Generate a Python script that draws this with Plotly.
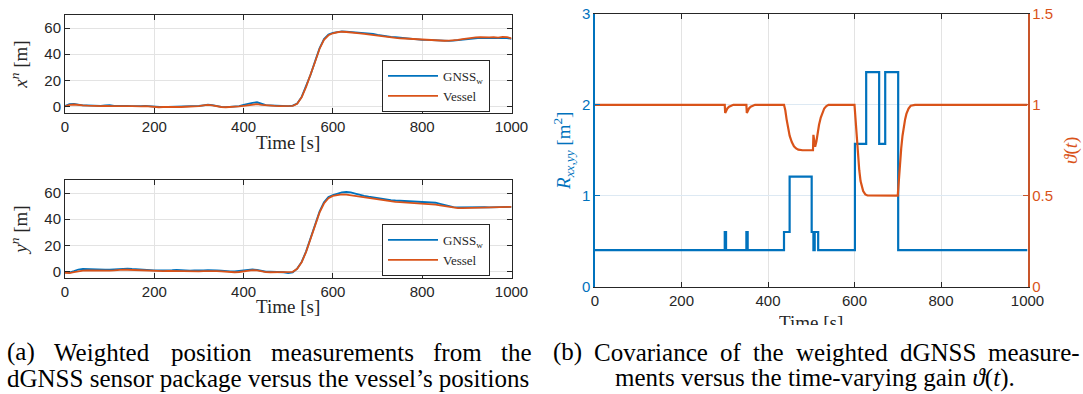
import plotly.graph_objects as go

# ---------------- data ----------------
t_pos = list(range(0, 1001, 10))

x_vessel = [0.0, 1.2, 1.5, 1.0, 0.8, 0.6, 0.4, 0.5, 0.3, 0.5, 0.6,
            0.3, 0.2, 0.4, 0.3, 0.2, 0.0, 0.1, 0.3, 0.0, -0.5,
            -0.6, -0.4, -0.5, -0.3, -0.6, -0.4, -0.2, -0.1, 0.1, 0.3,
            0.8, 1.2, 0.9, 0.2, -0.4, -0.6, -0.5, -0.2, 0.0, 0.4,
            1.0, 1.5, 1.8, 1.2, 0.8, 0.6, 0.4, 0.3, 0.2, 0.1,
            0.5, 2.0, 7.0, 15.0, 24.0, 34.0, 44.0, 51.0, 54.5, 56.0,
            56.8, 57.2, 57.0, 56.8, 56.5, 56.0, 55.5, 55.0, 54.5, 54.0,
            53.6, 53.2, 52.8, 52.5, 52.2, 52.0, 51.8, 51.5, 51.3, 51.0,
            50.8, 50.6, 50.5, 50.4, 50.3, 50.4, 50.6, 51.0, 51.6, 52.2,
            52.6, 52.9, 53.0, 52.8, 52.9, 53.1, 52.7, 53.2, 53.0, 52.2]

x_gnss = [0.3, 1.8, 1.9, 1.3, 0.9, 0.8, 0.5, 0.7, 0.4, 0.9, 1.0,
          0.5, 0.3, 0.5, 0.4, 0.3, 0.1, 0.3, 0.5, 0.2, -0.3,
          -0.4, -0.5, -0.3, -0.2, -0.4, -0.3, -0.1, 0.0, 0.2, 0.4,
          0.9, 1.4, 1.0, 0.3, -0.3, -0.5, -0.4, -0.1, 0.3, 1.2,
          2.2, 2.8, 3.2, 2.0, 1.0, 0.9, 0.6, 0.5, 0.4, 0.2,
          0.6, 2.3, 7.3, 15.3, 24.4, 34.5, 44.5, 51.6, 55.0, 56.4,
          57.2, 57.5, 57.3, 57.0, 56.6, 56.4, 56.3, 56.0, 55.6, 54.8,
          54.2, 53.8, 53.3, 53.0, 52.6, 52.4, 52.0, 51.7, 51.4, 51.0,
          50.9, 50.7, 50.6, 50.3, 50.1, 50.2, 50.4, 50.8, 51.2, 51.7,
          52.1, 52.4, 52.5, 52.3, 52.2, 52.4, 52.0, 52.3, 52.4, 51.8]

y_vessel = [-1.0, -1.2, -0.5, 0.3, 0.6, 0.8, 0.7, 0.5, 0.6, 0.5, 0.6,
            0.8, 1.2, 1.4, 1.3, 1.1, 1.0, 0.7, 0.5, 0.6, 0.4,
            0.3, 0.2, 0.4, 0.3, 0.5, 0.4, 0.3, 0.2, 0.3, 0.0,
            0.2, 0.4, 0.5, 0.3, 0.1, -0.2, -0.4, -0.6, -0.4, 0.0,
            0.6, 1.0, 0.8, 0.0, -0.5, -0.6, -0.5, -0.6, -0.5, -0.7,
            -0.3, 2.0, 7.0, 15.0, 25.0, 36.0, 45.0, 52.0, 56.0, 57.8,
            58.6, 59.0, 58.8, 58.3, 57.6, 57.0, 56.3, 55.7, 55.2, 54.7,
            54.2, 53.8, 53.5, 53.2, 53.0, 52.8, 52.6, 52.4, 52.2, 52.0,
            51.6, 51.4, 51.2, 50.6, 50.0, 49.2, 48.6, 48.4, 48.5, 48.6,
            48.7, 48.6, 48.8, 49.0, 48.9, 49.1, 49.2, 49.3, 49.4, 49.5]

y_gnss = [-0.5, -0.8, 0.3, 1.5, 2.0, 1.8, 1.5, 1.3, 1.2, 1.4, 1.3,
          1.6, 2.1, 2.4, 2.2, 1.9, 1.6, 1.3, 1.2, 1.0, 0.9,
          0.8, 0.7, 0.9, 1.0, 1.2, 0.9, 0.8, 0.7, 0.8, 0.6,
          0.8, 1.0, 1.2, 0.9, 0.6, 0.2, 0.0, 0.1, 0.4, 0.8,
          1.4, 1.6, 1.2, 0.3, -0.2, -0.2, -0.3, -0.4, -0.6, -1.2,
          -0.8, 2.2, 7.3, 15.4, 25.5, 36.6, 45.8, 53.0, 57.0, 58.5,
          59.8, 60.5, 60.8, 60.5, 59.6, 58.6, 57.8, 57.2, 56.6, 56.2,
          55.6, 55.0, 54.6, 54.3, 54.1, 54.0, 53.8, 53.6, 53.5, 53.2,
          53.0, 52.8, 52.6, 51.8, 50.9, 50.1, 49.3, 49.0, 49.1, 49.2,
          49.0, 48.9, 49.1, 49.2, 49.0, 49.2, 49.3, 49.4, 49.4, 49.5]

# covariance (step signal, value holds until next time)
t_R = [0, 300, 303, 350, 353, 437, 450, 501, 505, 508, 516, 601, 627, 657, 671, 701, 1000]
R_xxyy = [0.4, 0.6, 0.4, 0.6, 0.4, 0.6, 1.21, 0.6, 0.4, 0.6, 0.4, 1.57, 2.36, 1.57, 2.36, 0.4, 0.4]

# time-varying gain
t_theta = [0, 300, 301, 303, 306, 310, 315, 320, 350, 351, 353, 356, 360, 365, 370,
           437, 440, 443, 446, 450, 455, 460, 465, 470, 480, 504, 505, 507, 509,
           512, 515, 518, 522, 526, 530, 535, 540, 600, 602, 605, 608, 611, 614,
           617, 620, 625, 630, 700, 702, 705, 708, 711, 714, 717, 720, 725, 730, 740, 1000]
theta = [1.0, 1.0, 0.955, 0.965, 0.98, 0.99, 0.997, 1.0, 1.0, 0.955, 0.965, 0.98, 0.99, 0.997, 1.0,
         1.0, 0.97, 0.92, 0.87, 0.83, 0.795, 0.772, 0.76, 0.753, 0.75, 0.75, 0.835, 0.80, 0.77,
         0.80, 0.85, 0.89, 0.93, 0.96, 0.98, 0.993, 1.0, 1.0, 0.93, 0.82, 0.72, 0.64, 0.58,
         0.545, 0.525, 0.507, 0.501, 0.5, 0.58, 0.68, 0.76, 0.83, 0.88, 0.92, 0.95, 0.98, 0.995, 1.0, 1.0]

x_ticks = [0, 200, 400, 600, 800, 1000]
pos_ticks = [0, 20, 40, 60]
R_ticks = [0, 1, 2, 3]
theta_ticks = [0, 0.5, 1, 1.5]

caption_a = ["(a) Weighted position measurements from the",
             "dGNSS sensor package versus the vessel\u2019s positions"]
caption_b = ["(b) Covariance of the weighted dGNSS measure-",
             "ments versus the time-varying gain <i>\u03d1</i>(<i>t</i>)."]

# ---------------- style ----------------
W, H = 1083, 394
BLUE = "#0072BD"
ORANGE = "#D95319"
ORANGE_AX = "#C8552A"
DARK = "#262626"
GRID = "#e3e3e3"
SANS = "Liberation Sans, Arial, sans-serif"
SERIF = "Liberation Serif, Times New Roman, serif"


def px(x):
    return x / W


def py(y):
    return 1 - y / H


fig = go.Figure()

# left top
fig.add_trace(go.Scatter(x=t_pos, y=x_gnss, mode="lines", name="GNSS<sub>w</sub>",
                         line=dict(color=BLUE, width=1.8), xaxis="x", yaxis="y", legend="legend"))
fig.add_trace(go.Scatter(x=t_pos, y=x_vessel, mode="lines", name="Vessel",
                         line=dict(color=ORANGE, width=1.8), xaxis="x", yaxis="y", legend="legend"))
# left bottom
fig.add_trace(go.Scatter(x=t_pos, y=y_gnss, mode="lines", name="GNSS<sub>w</sub>",
                         line=dict(color=BLUE, width=1.8), xaxis="x2", yaxis="y2", legend="legend2"))
fig.add_trace(go.Scatter(x=t_pos, y=y_vessel, mode="lines", name="Vessel",
                         line=dict(color=ORANGE, width=1.8), xaxis="x2", yaxis="y2", legend="legend2"))
# right
fig.add_trace(go.Scatter(x=t_R, y=R_xxyy, mode="lines", line_shape="hv", showlegend=False,
                         line=dict(color=BLUE, width=2.2), xaxis="x3", yaxis="y3"))
fig.add_trace(go.Scatter(x=t_theta, y=theta, mode="lines", showlegend=False,
                         line=dict(color=ORANGE, width=2.2), xaxis="x3", yaxis="y4"))

tickfont = dict(family=SANS, size=15, color=DARK)
titlefont = dict(family=SERIF, size=19, color=DARK)


def xax(domain, anchor):
    return dict(domain=domain, anchor=anchor, range=[0, 1000], tickvals=x_ticks,
                automargin=False,
                showgrid=True, gridcolor=GRID, gridwidth=1, zeroline=False,
                showline=True, linecolor=DARK, linewidth=1, mirror="ticks",
                ticks="inside", ticklen=5, tickcolor=DARK, tickfont=tickfont)


def yax_pos(domain, anchor, label):
    return dict(domain=domain, anchor=anchor, range=[-5, 70], tickvals=pos_ticks,
                automargin=False,
                showgrid=True, gridcolor=GRID, gridwidth=1, zeroline=False,
                showline=True, linecolor=DARK, linewidth=1, mirror="ticks",
                ticks="inside", ticklen=5, tickcolor=DARK, tickfont=tickfont,
                title=dict(text=label, font=titlefont, standoff=11))


xd_left = [px(65), px(511.5)]
xd_right = [px(595), px(1027.5)]

fig.update_layout(
    width=W, height=H,
    margin=dict(l=0, r=0, t=0, b=0, autoexpand=False),
    paper_bgcolor="white", plot_bgcolor="white",
    xaxis=xax(xd_left, "y"),
    yaxis=yax_pos([py(113), py(15)], "x", "<i>x</i><sup><i>n</i></sup> [m]"),
    xaxis2=xax(xd_left, "y2"),
    yaxis2=yax_pos([py(278), py(180)], "x2", "<i>y</i><sup><i>n</i></sup> [m]"),
    xaxis3=dict(domain=xd_right, anchor="y3", range=[0, 1000], tickvals=x_ticks,
                automargin=False,
                showgrid=True, gridcolor=GRID, zeroline=False,
                showline=True, linecolor=DARK, linewidth=1, mirror="ticks",
                ticks="inside", ticklen=5, tickcolor=DARK, tickfont=tickfont),
    yaxis3=dict(domain=[py(286.5), py(14)], anchor="x3", range=[0, 3], tickvals=R_ticks,
                automargin=False,
                showgrid=True, gridcolor="#dde9f3", zeroline=False,
                showline=True, linecolor=BLUE, linewidth=1.5,
                ticks="inside", ticklen=5, tickcolor=BLUE,
                tickfont=dict(family=SANS, size=15, color=BLUE),
                title=dict(text="<i>R</i><sub><i>xx,yy</i></sub> [m<sup>2</sup>]",
                           font=dict(family=SERIF, size=19, color=BLUE), standoff=6)),
    yaxis4=dict(overlaying="y3", anchor="x3", side="right", range=[0, 1.5], tickvals=theta_ticks,
                automargin=False,
                showgrid=False, zeroline=False,
                showline=True, linecolor=ORANGE_AX, linewidth=1.5,
                ticks="inside", ticklen=5, tickcolor=ORANGE_AX,
                tickfont=dict(family=SANS, size=15, color=ORANGE),
                title=dict(text="<i>\u03d1</i>(<i>t</i>)",
                           font=dict(family=SERIF, size=19, color=ORANGE), standoff=12)),
    legend=dict(x=px(490), y=py(112), xanchor="right", yanchor="bottom",
                bgcolor="white", bordercolor=DARK, borderwidth=1,
                font=dict(family=SERIF, size=13, color=DARK), itemwidth=50,
                tracegroupgap=0),
    legend2=dict(x=px(490), y=py(276), xanchor="right", yanchor="bottom",
                 bgcolor="white", bordercolor=DARK, borderwidth=1,
                 font=dict(family=SERIF, size=13, color=DARK), itemwidth=50,
                 tracegroupgap=0),
)

annotations = []
# x-axis titles
for yc in (142, 306):
    annotations.append(dict(text="Time [s]", x=px(288), y=py(yc), xref="paper", yref="paper",
                            xanchor="center", yanchor="middle", showarrow=False, font=titlefont))
# clipped x-axis title on the right plot
annotations.append(dict(text="Time [s]", x=px(811), y=py(310), xref="paper", yref="paper",
                        xanchor="center", yanchor="top", showarrow=False, height=13,
                        valign="top", font=titlefont))

# captions (Times metrics for justification of the first lines)
TIMES = {'(': 333, ')': 333, 'a': 444, 'b': 500, 'c': 444, 'd': 500, 'e': 444, 'f': 333,
         'g': 500, 'h': 500, 'i': 278, 'l': 278, 'm': 778, 'n': 500, 'o': 500, 'p': 500,
         'r': 333, 's': 389, 't': 278, 'u': 500, 'v': 500, 'w': 722, 'W': 944, 'C': 667,
         'G': 722, 'N': 722, 'S': 556, '-': 333, 'k': 500, 'y': 500}
CAP_SIZE = 25
capfont = dict(family=SERIF, size=CAP_SIZE, color="black")


def justify(line, x0, x1, ycen):
    words = line.split(" ")
    widths = [sum(TIMES.get(c, 500) for c in w) * CAP_SIZE / 1000 for w in words]
    gap = (x1 - x0 - sum(widths)) / (len(words) - 1)
    x = x0
    for w, wd in zip(words, widths):
        annotations.append(dict(text=w, x=px(x), y=py(ycen), xref="paper", yref="paper",
                                xanchor="left", yanchor="middle", showarrow=False,
                                font=capfont))
        x += wd + gap


justify(caption_a[0], 5, 530, 352)
annotations.append(dict(text=caption_a[1], x=px(5), y=py(378), xref="paper", yref="paper",
                        xanchor="left", yanchor="middle", showarrow=False, font=capfont))
justify(caption_b[0], 551, 1078, 352)
annotations.append(dict(text=caption_b[1], x=px(815), y=py(378), xref="paper", yref="paper",
                        xanchor="center", yanchor="middle", showarrow=False, font=capfont))

fig.update_layout(annotations=annotations)

fig.write_html("out.html")
